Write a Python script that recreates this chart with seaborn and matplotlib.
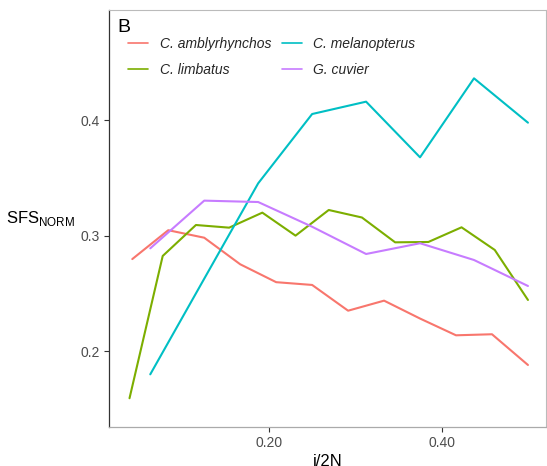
import numpy as np
import pandas as pd
import matplotlib
matplotlib.use("Agg")
import matplotlib.pyplot as plt
import seaborn as sns

species = ["C. amblyrhynchos", "C. limbatus", "C. melanopterus", "G. cuvier"]
colors = ["#F8766D", "#7CAE00", "#00BFC4", "#C77CFF"]

# sample sizes (2N) per species; x = i/2N
n_amblyrhynchos = 24
n_limbatus = 26
n_melanopterus = 16
n_cuvier = 16

sfs_amblyrhynchos = [0.280, 0.305, 0.2985, 0.2755, 0.260, 0.2576, 0.2353,
                     0.244, 0.2285, 0.214, 0.2149, 0.1883]
sfs_limbatus = [0.1595, 0.2827, 0.3095, 0.3072, 0.3202, 0.3003, 0.3225,
                0.316, 0.2945, 0.2948, 0.3075, 0.2879, 0.2446]
sfs_melanopterus = [0.1802, 0.263, 0.3456, 0.4056, 0.4163, 0.3681, 0.4365, 0.3981]
sfs_cuvier = [0.2893, 0.3306, 0.3294, 0.308, 0.2844, 0.2937, 0.2792, 0.2567]

sizes = [n_amblyrhynchos, n_limbatus, n_melanopterus, n_cuvier]
values = [sfs_amblyrhynchos, sfs_limbatus, sfs_melanopterus, sfs_cuvier]

rows = []
for name, n, vals in zip(species, sizes, values):
    for i, v in enumerate(vals, start=1):
        rows.append({"species": name, "x": i / n, "sfs": v})
df = pd.DataFrame(rows)

sns.set_theme(style="white")
plt.rcParams["font.family"] = ["Liberation Sans", "DejaVu Sans"]
plt.rcParams["mathtext.fontset"] = "custom"
plt.rcParams["mathtext.rm"] = "Liberation Sans"

fig = plt.figure(figsize=(5.47, 4.66), dpi=100)
ax = fig.add_axes([109 / 547, 39 / 466, 437 / 547, 417.5 / 466])

sns.lineplot(data=df, x="x", y="sfs", hue="species", hue_order=species,
             palette=colors, linewidth=1.5, ax=ax, legend=False, sort=False)

ax.set_xlim(0.0147, 0.5209)
ax.set_ylim(0.1346, 0.4961)
ax.set_xticks([0.2, 0.4])
ax.set_xticklabels(["0.20", "0.40"])
ax.set_yticks([0.2, 0.3, 0.4])
ax.set_yticklabels(["0.2", "0.3", "0.4"])
ax.tick_params(axis="both", length=3.5, width=0.8, color="#333333",
               labelsize=10, labelcolor="#4D4D4D", pad=3, bottom=True, left=True)

for side in ["top", "right"]:
    ax.spines[side].set_color("#BBBBBB")
    ax.spines[side].set_linewidth(0.8)
ax.spines["bottom"].set_color("#AAAAAA")
ax.spines["bottom"].set_linewidth(0.9)
ax.spines["left"].set_color("#333333")
ax.spines["left"].set_linewidth(0.9)

ax.set_xlabel("i/2N", fontsize=12, color="black", labelpad=2.5)
ax.set_ylabel("")
fig.text(6 / 547, 1 - 218 / 466, r"SFS$_{\mathrm{NORM}}$", fontsize=12,
         color="black", ha="left", va="center")

handles = [plt.Line2D([], [], color=c, linewidth=1.2) for c in colors]
leg = ax.legend(handles, species, ncol=2, loc="upper left",
                bbox_to_anchor=(0.030, 0.948), frameon=False, fontsize=10,
                handlelength=1.45, handletextpad=0.85, columnspacing=0.75,
                labelspacing=0.87, borderaxespad=0.0)
for t in leg.get_texts():
    t.set_style("italic")

fig.text(117 / 547, 1 - 28 / 466, "B", fontsize=14,
         ha="left", va="center", color="black")

fig.savefig("out.png", dpi=100)
